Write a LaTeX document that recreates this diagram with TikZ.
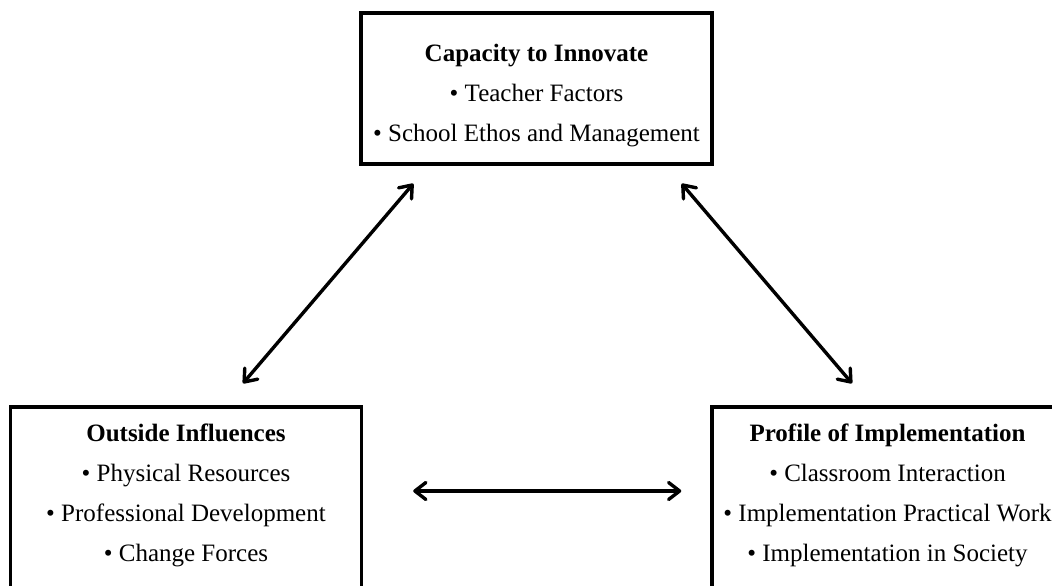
\documentclass[tikz,border=0pt]{standalone}
\usepackage{fontspec}
\setmainfont{Liberation Serif}
\usetikzlibrary{arrows.meta,positioning}

\begin{document}
\begin{tikzpicture}[
    x=1pt, y=1pt,
    frame/.style={rectangle, draw, line width=3.4pt, minimum width=351pt, inner sep=0pt},
    content/.style={align=center, inner sep=0pt, font=\fontsize{25pt}{40pt}\selectfont},
    barb/.tip={Straight Barb[length=11pt, width=17pt, round]},
    arrow/.style={barb-barb, line width=3.4pt, line cap=round}
]
\clip (0,0) rectangle (1052,-586);

\node[frame, minimum height=151pt] (capacity) at (536.5,-88.5) {};
\node[frame, minimum height=200pt] (outside) at (186,-507) {};
\node[frame, minimum height=200pt] (profile) at (887.5,-507) {};

\node[content, below=33pt of capacity.north] (capacitytext)
    {\textbf{Capacity to Innovate}\\ • Teacher Factors\\ • School Ethos and Management};
\node[content, below=18pt of outside.north] (outsidetext)
    {\textbf{Outside Influences}\\ • Physical Resources\\ • Professional Development\\ • Change Forces};
\node[content, below=18pt of profile.north] (profiletext)
    {\textbf{Profile of Implementation}\\ • Classroom Interaction\\ • Implementation Practical Work\\ • Implementation in Society};

% two-way links between the three boxes
\draw[arrow] ([shift={(57,22)}]outside.north) -- ([shift={(54,-18)}]capacity.south west);
\draw[arrow] ([shift={(-32,-18)}]capacity.south east) -- ([shift={(-35.5,22)}]profile.north);
\draw[arrow] ([shift={(50,16)}]outside.east) -- ([shift={(-29,16)}]profile.west);

\end{tikzpicture}
\end{document}
